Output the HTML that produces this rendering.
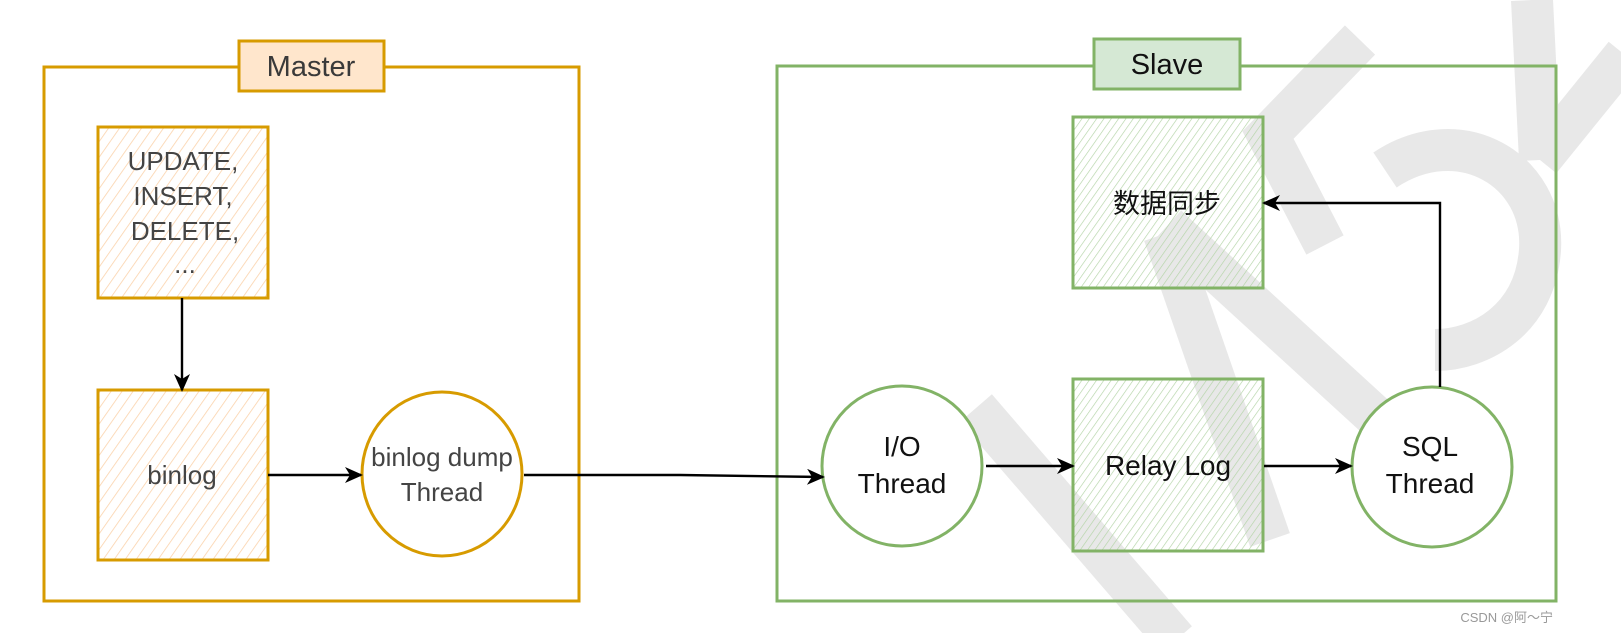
<!DOCTYPE html>
<html><head><meta charset="utf-8"><style>
html,body{margin:0;padding:0;background:#fff;}
svg{display:block}
text{font-family:"Liberation Sans","Noto Sans CJK SC",sans-serif;}
</style></head><body>
<svg width="1621" height="633" viewBox="0 0 1621 633" xmlns="http://www.w3.org/2000/svg">
<defs>
<pattern id="ho" width="9" height="9" patternUnits="userSpaceOnUse" patternTransform="rotate(35)">
<rect width="9" height="9" fill="#fff"/><line x1="0" y1="0" x2="0" y2="9" stroke="#fbd3ab" stroke-width="1.6"/></pattern>
<pattern id="hg" width="6" height="6" patternUnits="userSpaceOnUse" patternTransform="rotate(35)">
<rect width="6" height="6" fill="none"/><line x1="0" y1="0" x2="0" y2="6" stroke="#b3d4a6" stroke-width="1.3"/></pattern>
<marker id="ar" markerWidth="18" markerHeight="16" refX="16" refY="8" orient="auto" markerUnits="userSpaceOnUse">
<path d="M0,0 L18,8 L0,16 L5,8 Z" fill="#000"/></marker>
</defs>
<!-- watermark -->
<g stroke="#e8e8e8" stroke-width="42" fill="none" stroke-linecap="butt">
<line x1="976" y1="408" x2="1176" y2="640"/>
<line x1="1164" y1="234" x2="1270" y2="540"/>
<line x1="1167" y1="226" x2="1390" y2="430"/>
<polyline points="1360,40 1268,135 1325,245"/>
<path d="M1385,170 C1460,120 1545,170 1540,250 C1535,320 1480,350 1435,350"/>
<line x1="1532" y1="0" x2="1540" y2="160"/>
<line x1="1625" y1="55" x2="1540" y2="160"/>
</g>
<!-- Master -->
<rect x="44" y="67" width="535" height="534" fill="none" stroke="#d79b00" stroke-width="3"/>
<rect x="239" y="41" width="145" height="50" fill="#ffe6cc" stroke="#d79b00" stroke-width="3"/>
<text x="311" y="76" font-size="29" fill="#3a3a3a" text-anchor="middle">Master</text>
<rect x="98" y="127" width="170" height="171" fill="url(#ho)" stroke="#d79b00" stroke-width="3"/>
<g font-size="26" fill="#444" text-anchor="middle">
<text x="183" y="170">UPDATE,</text><text x="183" y="205">INSERT,</text><text x="185" y="240">DELETE,</text><text x="185" y="273">...</text>
</g>
<rect x="98" y="390" width="170" height="170" fill="url(#ho)" stroke="#d79b00" stroke-width="3"/>
<text x="182" y="484" font-size="26" fill="#444" text-anchor="middle">binlog</text>
<ellipse cx="442" cy="474" rx="80" ry="82" fill="#fff" stroke="#d79b00" stroke-width="3"/>
<text x="442" y="466" font-size="26" fill="#444" text-anchor="middle">binlog dump</text>
<text x="442" y="501" font-size="26" fill="#444" text-anchor="middle">Thread</text>
<!-- Slave -->
<rect x="777" y="66" width="779" height="535" fill="none" stroke="#82b366" stroke-width="3"/>
<rect x="1094" y="39" width="146" height="50" fill="#d5e8d4" stroke="#82b366" stroke-width="3"/>
<text x="1167" y="74" font-size="29" fill="#111" text-anchor="middle">Slave</text>
<rect x="1073" y="117" width="190" height="171" fill="url(#hg)" stroke="#82b366" stroke-width="3"/>
<text x="1167" y="213" font-size="27" fill="#111" text-anchor="middle">数据同步</text>
<rect x="1073" y="379" width="190" height="172" fill="url(#hg)" stroke="#82b366" stroke-width="3"/>
<text x="1168" y="475" font-size="28" fill="#111" text-anchor="middle">Relay Log</text>
<circle cx="902" cy="466" r="80" fill="#fff" stroke="#82b366" stroke-width="3"/>
<text x="902" y="456" font-size="28" fill="#111" text-anchor="middle">I/O</text>
<text x="902" y="493" font-size="28" fill="#111" text-anchor="middle">Thread</text>
<circle cx="1432" cy="467" r="80" fill="#fff" stroke="#82b366" stroke-width="3"/>
<text x="1430" y="456" font-size="28" fill="#111" text-anchor="middle">SQL</text>
<text x="1430" y="493" font-size="28" fill="#111" text-anchor="middle">Thread</text>
<!-- arrows -->
<g stroke="#000" stroke-width="2.4" fill="none" marker-end="url(#ar)">
<line x1="182" y1="298" x2="182" y2="390"/>
<line x1="268" y1="475" x2="361" y2="475"/>
<polyline points="524,475 680,475 823,477"/>
<line x1="986" y1="466" x2="1073" y2="466"/>
<line x1="1264" y1="466" x2="1351" y2="466"/>
<polyline points="1440,387 1440,203 1264,203"/>
</g>
<text x="1553" y="622" font-size="13" fill="#999" text-anchor="end">CSDN @阿～宁</text>
</svg>
</body></html>
